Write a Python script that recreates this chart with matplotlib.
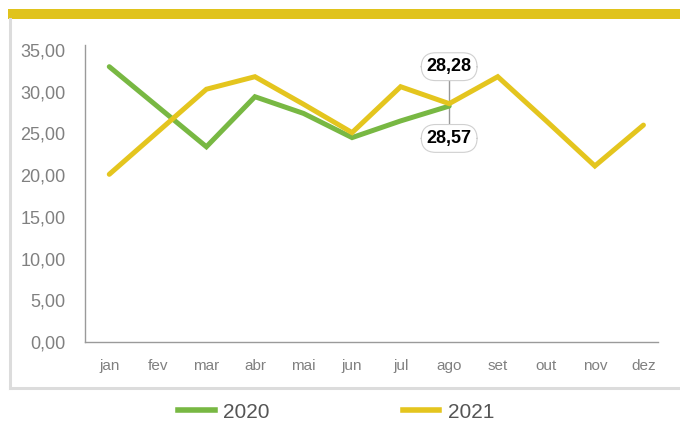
import matplotlib
matplotlib.use('Agg')
import matplotlib.pyplot as plt
from matplotlib.patches import Rectangle
from matplotlib.lines import Line2D

plt.rcParams['font.family'] = ['Liberation Sans', 'DejaVu Sans']

meses = ['jan', 'fev', 'mar', 'abr', 'mai', 'jun', 'jul', 'ago', 'set', 'out', 'nov', 'dez']
v2020 = [33.0, 28.2, 23.4, 29.4, 27.4, 24.5, 26.5, 28.28]
v2021 = [20.1, 25.2, 30.3, 31.8, 28.5, 25.1, 30.6, 28.57, 31.8, 26.5, 21.1, 26.0]
rotulos = ['28,28', '28,57']

cor20 = '#78b843'
cor21 = '#e4c51e'
cinza = '#808080'

fig = plt.figure(figsize=(6.8, 4.24), dpi=100)

# moldura
fig.patches.append(Rectangle((8/680, 1-19/424), 672/680, 10/424, transform=fig.transFigure,
                             facecolor='#e0c31c', edgecolor='none'))
fig.lines.append(Line2D([9.5/680, 9.5/680], [1-19/424, 1-388/424], transform=fig.transFigure,
                        color='#dcdcdc', lw=2.2))
fig.lines.append(Line2D([9.5/680, 1], [1-388/424, 1-388/424], transform=fig.transFigure,
                        color='#dcdcdc', lw=2.2))

ax = fig.add_axes([85/680, 1-342/424, (658-85)/680, (342-45)/424])
x = list(range(len(meses)))
ax.plot(x[:len(v2020)], v2020, color=cor20, lw=3.6, solid_capstyle='round', solid_joinstyle='miter', label='2020')
ax.plot(x, v2021, color=cor21, lw=3.6, solid_capstyle='round', solid_joinstyle='miter', label='2021')

ax.set_xlim(-0.5, 11.3)
ax.set_ylim(0, 35.6)
ax.set_yticks(range(0, 36, 5))
ax.set_yticklabels([f'{v:.2f}'.replace('.', ',') for v in range(0, 36, 5)])
ax.set_xticks(x)
ax.set_xticklabels(meses)
ax.tick_params(axis='y', length=0, pad=14, labelsize=13, labelcolor=cinza)
ax.tick_params(axis='x', length=0, pad=12, labelsize=11, labelcolor=cinza)
for s in ['top', 'right']:
    ax.spines[s].set_visible(False)
for s in ['left', 'bottom']:
    ax.spines[s].set_color('#9a9a9a')
    ax.spines[s].set_linewidth(1)

# rótulo de agosto
xi = 7
ax.plot([xi, xi], [24.7, 31.8], color='#999999', lw=1, zorder=1)
caixa = dict(boxstyle='round,pad=0.3,rounding_size=0.8', fc='white', ec='#d0d0d0', lw=0.8)
ax.text(xi, 33.0, rotulos[0], ha='center', va='center', fontsize=13, fontweight='bold',
        color='black', bbox=caixa, zorder=5)
ax.text(xi, 24.4, rotulos[1], ha='center', va='center', fontsize=13, fontweight='bold',
        color='black', bbox=caixa, zorder=5)

h = [Line2D([], [], color=cor20, lw=4), Line2D([], [], color=cor21, lw=4)]
fig.legend(h, ['2020', '2021'], loc='center', bbox_to_anchor=(336/680, 1-412/424), ncol=2,
           frameon=False, fontsize=15, handlelength=1.75, columnspacing=6.4, handletextpad=0.4,
           labelcolor='#555555')

fig.savefig('out.png', dpi=100)
